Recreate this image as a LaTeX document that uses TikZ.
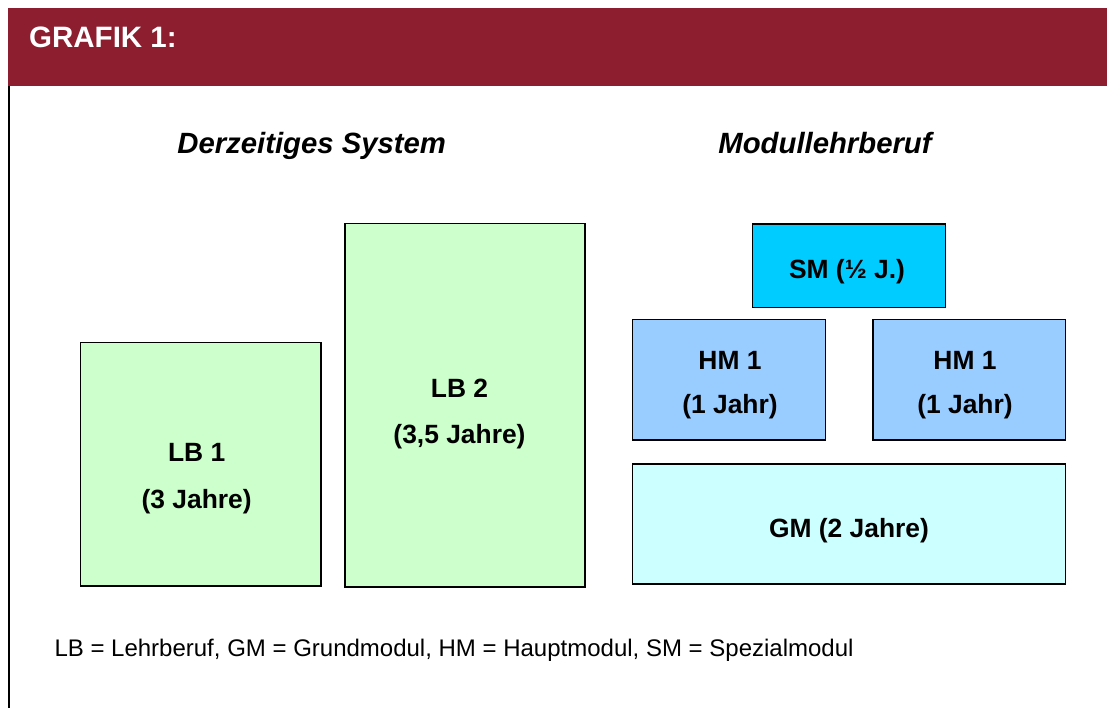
\documentclass[tikz,border=0pt]{standalone}
\usepackage{fontspec}
\setmainfont{Liberation Sans}
\definecolor{hdr}{RGB}{141,30,47}
\definecolor{lbgreen}{RGB}{204,255,204}
\definecolor{hmblue}{RGB}{153,204,255}
\definecolor{smcyan}{RGB}{0,204,255}
\definecolor{gmcyan}{RGB}{204,255,255}
\tikzset{
  box/.style={draw=black, line width=1.4pt, inner sep=0pt, outer sep=0pt, rectangle},
  boxtext/.style={anchor=base, inner sep=0pt, font=\fontsize{26.4}{30}\selectfont\bfseries},
  titletext/.style={anchor=base, inner sep=0pt, font=\fontsize{29.3}{33}\selectfont\bfseries\itshape},
}
\begin{document}
\begin{tikzpicture}[x=1pt,y=-1pt]
\useasboundingbox (0,0) rectangle (1107,708);
\fill[white] (0,0) rectangle (1107,708);
% header
\node[fill=hdr, inner sep=0pt, outer sep=0pt, minimum width=1099pt, minimum height=78pt] (hdr) at (557.5,47) {};
\node[anchor=base west, inner sep=0pt, text=white, font=\fontsize{29.5}{34}\selectfont\bfseries] (hdrtext) at (29,47.7) {GRAFIK 1:};
\coordinate (fl) at (9,86);
\coordinate (fb) at (9,708);
\draw[line width=1.5pt] (fl) -- (fb);
% titles
\node[titletext] (t1) at (311.7,153.3) {Derzeitiges System};
\node[titletext] (t2) at (825,153.3) {Modullehrberuf};
% left boxes
\node[box, fill=lbgreen, minimum width=240.5pt, minimum height=243.7pt] (lb1) at (200.75,464.15) {};
\node[boxtext] (lb1a) at (196.7,461.7) {LB 1};
\node[boxtext] (lb1b) at (196.7,508) {(3 Jahre)};
\node[box, fill=lbgreen, minimum width=240pt, minimum height=363.5pt] (lb2) at (465,405.25) {};
\node[boxtext] (lb2a) at (459.5,397.3) {LB 2};
\node[boxtext] (lb2b) at (459.5,443.3) {(3,5 Jahre)};
% right boxes
\node[box, fill=smcyan, minimum width=193pt, minimum height=83.7pt] (sm) at (849.2,265.85) {};
\node[boxtext] (smt) at (847,278.3) {SM (½ J.)};
\node[box, fill=hmblue, minimum width=193pt, minimum height=120.3pt] (hm1) at (729.2,379.85) {};
\node[boxtext] (hm1a) at (730,369) {HM 1};
\node[boxtext] (hm1b) at (730,413.3) {(1 Jahr)};
\node[box, fill=hmblue, minimum width=192.7pt, minimum height=120.3pt] (hm2) at (969.35,379.85) {};
\node[boxtext] (hm2a) at (965,369) {HM 1};
\node[boxtext] (hm2b) at (965,413.3) {(1 Jahr)};
\node[box, fill=gmcyan, minimum width=433pt, minimum height=120pt] (gm) at (849.2,524) {};
\node[boxtext] (gmt) at (849,537.3) {GM (2 Jahre)};
% legend
\node[anchor=base west, inner sep=0pt, font=\fontsize{24}{28}\selectfont] (legend) at (54.3,656.7) {LB = Lehrberuf, GM = Grundmodul, HM = Hauptmodul, SM = Spezialmodul};
\end{tikzpicture}
\end{document}
